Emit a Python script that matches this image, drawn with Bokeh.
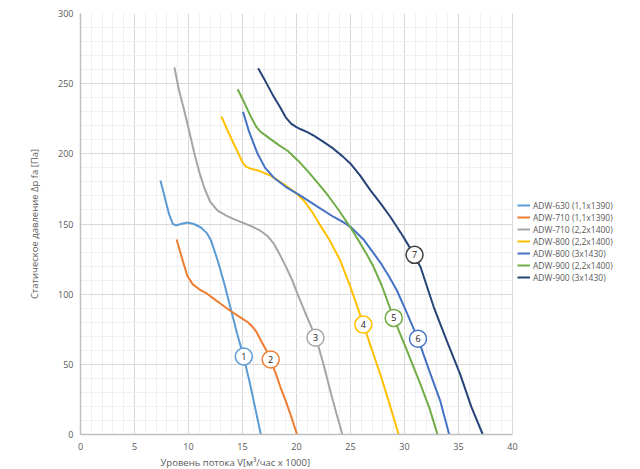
from bokeh.plotting import figure
from bokeh.models import Legend, LegendItem, ColumnDataSource, SingleIntervalTicker, Title
from bokeh.core.properties import value
from bokeh.embed import file_html
from bokeh.resources import INLINE

FONT = "Open Sans"

names = ["ADW-630 (1,1x1390)", "ADW-710 (1,1x1390)", "ADW-710 (2,2x1400)",
         "ADW-800 (2,2x1400)", "ADW-800 (3x1430)", "ADW-900 (2,2x1400)",
         "ADW-900 (3x1430)"]
colors = ["#5B9BD5", "#ED7D31", "#A5A5A5", "#FFC000", "#4472C4", "#70AD47", "#264478"]

s1_x = [7.4, 7.8, 8.2, 8.55, 8.85, 9.3, 9.9, 10.5, 11.15, 11.7, 12.1, 12.7, 13.3, 13.9, 14.5, 15.1, 15.7, 16.2, 16.7]
s1_y = [181, 169, 157, 150, 149, 150, 151, 150, 147.5, 143.5, 138, 124, 108, 90, 72, 55.5, 36, 18, 0]

s2_x = [8.9, 9.2, 9.5, 9.9, 10.4, 11.0, 11.6, 12.3, 13.0, 13.9, 14.8, 15.5, 15.9, 16.3, 16.7, 17.2, 17.6, 18.1, 18.5, 19.0, 19.5, 20.05]
s2_y = [139, 131, 123, 113, 107, 103.5, 101, 97, 93, 88, 83.5, 80, 77, 73, 67, 60, 53, 43, 34, 24, 13, 0]

s3_x = [8.7, 9.1, 9.6, 10.1, 10.55, 11.0, 11.45, 12.0, 12.7, 13.5, 14.2, 15.0, 15.8, 16.6, 17.3, 17.9, 18.4, 19.0, 19.6, 20.1, 20.9, 21.8, 22.5, 23.2, 23.7, 24.25]
s3_y = [261.5, 246, 231, 215, 200, 187, 176, 166, 159.5, 156, 153.5, 151, 148.5, 145.5, 141.5, 136, 129, 120, 110, 100, 85, 69, 50, 29, 15, 0]

s4_x = [13.05, 13.6, 14.2, 14.7, 15.0, 15.3, 15.7, 16.5, 17.6, 18.8, 19.8, 20.7, 21.5, 22.2, 23.1, 24.05, 25.0, 26.2, 27.0, 27.8, 28.6, 29.46]
s4_y = [226.5, 217, 207, 199, 194, 191, 189.5, 188, 184.5, 178.5, 173, 166.5, 158, 149, 138, 124, 105, 78.3, 60, 42, 22, 0]

s5_x = [15.05, 15.6, 16.4, 17.1, 17.9, 19.0, 20.4, 21.9, 23.45, 24.4, 25.0, 26.2, 27.2, 27.75, 28.5, 29.3, 30.2, 31.25, 32.4, 33.3, 34.14]
s5_y = [230, 216, 200, 190, 183, 176.5, 170, 162.5, 155, 151, 148, 139, 128.5, 122.7, 113.5, 102.6, 87, 68.2, 43.2, 24.2, 0]

s6_x = [14.55, 15.2, 15.8, 16.3, 16.7, 17.2, 17.6, 18.4, 19.2, 20.1, 21.0, 22.0, 22.9, 23.9, 25.0, 25.8, 26.5, 27.1, 27.9, 29.0, 30.23, 31.46, 32.3, 33.06]
s6_y = [246, 236, 226, 219, 215.5, 212.8, 210.5, 206, 202, 195.5, 188, 179, 170.5, 160, 147.5, 137.5, 128.5, 120, 106, 83, 59.8, 36.1, 19, 0]

s7_x = [16.45, 17.1, 17.8, 18.5, 19.0, 19.5, 20.0, 20.4, 21.0, 21.6, 22.5, 23.45, 24.3, 25.0, 25.9, 26.85, 27.8, 28.7, 29.8, 30.9, 31.5, 32.7, 33.9, 35.15, 36.2, 37.25]
s7_y = [261, 252, 242, 233, 226, 221.5, 219, 217.5, 215.5, 213, 208.5, 203.5, 198, 193, 184.5, 174, 164.5, 155, 142, 128, 119, 91, 67, 43, 19.5, 0]

label_x = [15.12, 17.61, 21.76, 26.19, 29.0, 31.25, 30.93]
label_y = [55.6, 53.4, 69.0, 78.3, 83.1, 68.2, 128.0]
label_text = ["1", "2", "3", "4", "5", "6", "7"]
label_colors = [colors[0], colors[1], colors[2], colors[3], colors[5], colors[4], "#404040"]

x_max, y_max = 40, 300

series_x = [s1_x, s2_x, s3_x, s4_x, s5_x, s6_x, s7_x]
series_y = [s1_y, s2_y, s3_y, s4_y, s5_y, s6_y, s7_y]

# frame extends to the right past x=40 to hold the legend; axis/grid bounded to 0..40
W, H = 640, 469
BL, BT, BB, BR = 80, 13, 35, 4
px_per_unit = 432.0 / x_max
x_end = (W - BL - BR) / px_per_unit

p = figure(width=W, height=H, x_range=(0, x_end), y_range=(0, y_max),
           output_backend="svg", toolbar_location=None,
           min_border_left=BL, min_border_top=BT, min_border_bottom=BB, min_border_right=BR)
p.outline_line_color = None
p.background_fill_color = "white"

p.xaxis.ticker = SingleIntervalTicker(interval=5, num_minor_ticks=5)
p.yaxis.ticker = SingleIntervalTicker(interval=50, num_minor_ticks=5)
p.xgrid.ticker = p.xaxis.ticker
p.ygrid.ticker = p.yaxis.ticker
p.xaxis.bounds = (0, x_max)
p.xgrid.bounds = (0, x_max)
p.ygrid.cross_bounds = (0, x_max)

for g in (p.xgrid, p.ygrid):
    g.grid_line_color = "#D9D9D9"
    g.grid_line_width = 1
    g.minor_grid_line_color = "#F0F0F0"
    g.minor_grid_line_width = 1

for ax in (p.xaxis, p.yaxis):
    ax.axis_line_color = "#BFBFBF"
    ax.axis_line_width = 1.5
    ax.major_tick_line_color = None
    ax.minor_tick_line_color = None
    ax.major_tick_out = 0
    ax.minor_tick_out = 0
    ax.major_label_text_font = FONT
    ax.major_label_text_font_size = "9px"
    ax.major_label_text_color = "#595959"
    ax.axis_label_text_font = FONT
    ax.axis_label_text_font_size = "9.5px"
    ax.axis_label_text_font_style = "normal"
    ax.axis_label_text_color = "#595959"

p.yaxis.axis_label = "Статическое давление Δp fa [Па]"
p.xaxis.major_label_standoff = 8
p.yaxis.major_label_standoff = 7
p.yaxis.axis_label_standoff = 14

xt = Title(text="Уровень потока V[м³/час x 1000]", align="left", offset=80,
           text_font=FONT, text_font_size="9.5px", text_font_style="normal",
           text_color="#595959", standoff=2)
p.add_layout(xt, "below")

items = []
for name, c, xs, ys in zip(names, colors, series_x, series_y):
    r = p.line(xs, ys, line_color=c, line_width=2)
    items.append(LegendItem(label=name, renderers=[r]))

src = ColumnDataSource(dict(x=label_x, y=label_y, t=label_text, c=label_colors))
p.scatter("x", "y", source=src, size=17, fill_color="white", line_color="c", line_width=1.5)
p.text("x", "y", text="t", source=src, text_align="center", text_baseline="middle",
       text_font=value(FONT), text_font_size="9px", text_color="#202020")

legend = Legend(items=items, location=(437, 151), orientation="vertical")
legend.padding = 0
legend.margin = 0
legend.spacing = 0
legend.glyph_width = 13
legend.glyph_height = 12
legend.label_height = 12
legend.label_standoff = 3
legend.label_text_font = FONT
legend.label_text_font_size = "8.5px"
legend.label_text_color = "#595959"
legend.border_line_color = None
legend.background_fill_alpha = 0
p.add_layout(legend, "center")

open("out.html", "w").write(file_html(p, INLINE))
